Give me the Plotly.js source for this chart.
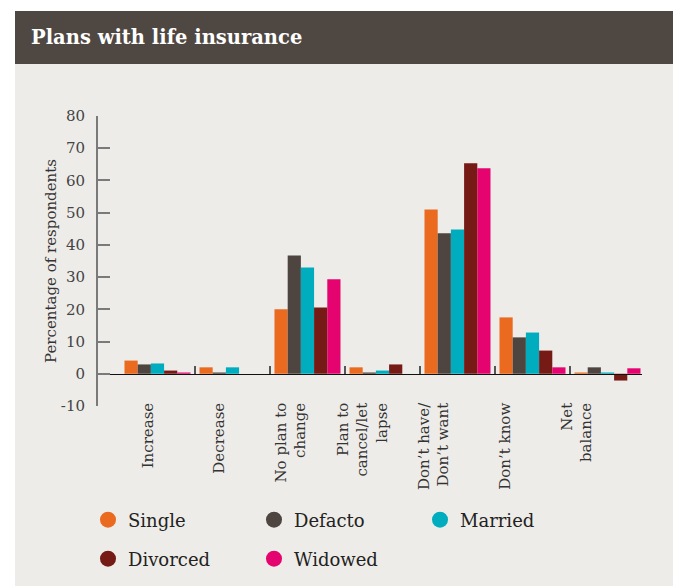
<!DOCTYPE html>
<html><head><meta charset="utf-8">
<script src="https://cdn.plot.ly/plotly-3.0.1.min.js"></script>
<style>html,body{margin:0;padding:0;background:#fff}#chart{width:673px;height:586px}</style>
</head><body><div id="chart"></div>
<script>
const categories = ["Increase","Decrease","No plan to<br>change","Plan to<br>cancel/let<br>lapse","Don’t have/<br>Don’t want","Don’t know","Net<br>balance"];
const seriesNames = ["Single","Defacto","Married","Divorced","Widowed"];
const single   = [4.1, 2.0, 20.0, 2.0, 51.0, 17.5, 0.4];
const defacto  = [2.9, 0.4, 36.7, 0.4, 43.6, 11.3, 2.0];
const married  = [3.2, 2.0, 33.0, 1.0, 44.8, 12.8, 0.4];
const divorced = [1.0, 0.0, 20.6, 2.9, 65.3, 7.2, -2.1];
const widowed  = [0.4, 0.0, 29.3, 0.0, 63.8, 2.0, 1.7];
const yTickVals = [-10,0,10,20,30,40,50,60,70,80];
const yTickText = ["-10","0","10","20","30","40","50","60","70","80"];
const colors = ["#ea6a20","#4e4541","#00adbe","#761a16","#e5046f"];

const W = 673, H = 586;
const M = {l:98, r:31, t:116, b:180, autoexpand:false};
const pw = W - M.l - M.r, ph = H - M.t - M.b;
const px2x = p => (p - M.l) / pw;
const py2y = p => (H - M.b - p) / ph;

const FONT = 'DejaVu Serif';
const allSeries = [single, defacto, married, divorced, widowed];

const traces = [];
allSeries.forEach((vals, i) => {
  traces.push({
    type:'bar', x: categories, y: vals, name: seriesNames[i],
    marker:{color: colors[i]}, showlegend:false, hoverinfo:'x+y'
  });
});
allSeries.forEach((vals, i) => {
  traces.push({
    type:'scatter', mode:'markers', x:[null], y:[null], name: seriesNames[i],
    marker:{color: colors[i], size:18, symbol:'circle'},
    legend: i < 3 ? 'legend' : 'legend2', hoverinfo:'skip'
  });
});
traces.push({type:'scatter', mode:'markers', x: categories, y: categories.map(()=>null),
  xaxis:'x2', showlegend:false, hoverinfo:'skip', marker:{opacity:0}});

const yMin = yTickVals[0], yMax = yTickVals[yTickVals.length-1];
const zeroPos = (0 - yMin) / (yMax - yMin);

const layout = {
  width: W, height: H,
  margin: M,
  paper_bgcolor:'#ffffff', plot_bgcolor:'rgba(0,0,0,0)',
  barmode:'group', bargap:0.12, bargroupgap:0,
  title:{text:'<b>Plans with life insurance</b>', xref:'container', yref:'container',
    x: 31/W, xanchor:'left', y: 1 - 37/H, yanchor:'middle',
    font:{family:FONT, size:19.5, color:'#ffffff'}},
  xaxis:{type:'category', range:[-0.793, 6.46], anchor:'free', position: zeroPos,
    showline:true, linecolor:'#111111', linewidth:1.5,
    ticks:'inside', tickmode:'array', tickvals:[0.5,1.5,2.5,3.5,4.5,5.5], ticklen:8, tickwidth:2, tickcolor:'#555555',
    showticklabels:false, showgrid:false, zeroline:false, fixedrange:true},
  xaxis2:{type:'category', overlaying:'x', range:[-0.7, 6.916], anchor:'free', position: zeroPos,
    showline:false, ticks:'', showgrid:false, zeroline:false,
    tickangle:-90, ticklabelstandoff:25,
    tickfont:{family:FONT, size:15, color:'#333333'}},
  yaxis:{range:[yMin, yMax], tickmode:'array', tickvals: yTickVals, ticktext: yTickText,
    showline:true, linecolor:'#7a7a7a', linewidth:2,
    ticks:'inside', ticklen:12, tickwidth:2, tickcolor:'#7a7a7a',
    showgrid:false, zeroline:false, ticklabelstandoff:8,
    tickfont:{family:FONT, size:15, color:'#444444'},
    title:{text:'Percentage of respondents', standoff:1, font:{family:FONT, size:15, color:'#333333'}}},
  legend:{orientation:'h', x: px2x(88), xanchor:'left', y: py2y(520), yanchor:'middle',
    entrywidth:121, entrywidthmode:'pixels', bgcolor:'rgba(0,0,0,0)',
    font:{family:FONT, size:18, color:'#222222'}},
  legend2:{orientation:'h', x: px2x(88), xanchor:'left', y: py2y(559), yanchor:'middle',
    entrywidth:121, entrywidthmode:'pixels', bgcolor:'rgba(0,0,0,0)',
    font:{family:FONT, size:18, color:'#222222'}},
  shapes:[
    {type:'rect', xref:'paper', yref:'paper', layer:'below',
     x0: px2x(15), x1: px2x(W), y0: py2y(H), y1: py2y(64),
     fillcolor:'#eeece8', line:{width:0}},
    {type:'rect', xref:'paper', yref:'paper', layer:'below',
     x0: px2x(15), x1: px2x(W), y0: py2y(64), y1: py2y(11),
     fillcolor:'#4f4742', line:{width:0}}
  ],
  showlegend:true
};

Plotly.newPlot('chart', traces, layout, {displayModeBar:false, staticPlot:true});
</script></body></html>
